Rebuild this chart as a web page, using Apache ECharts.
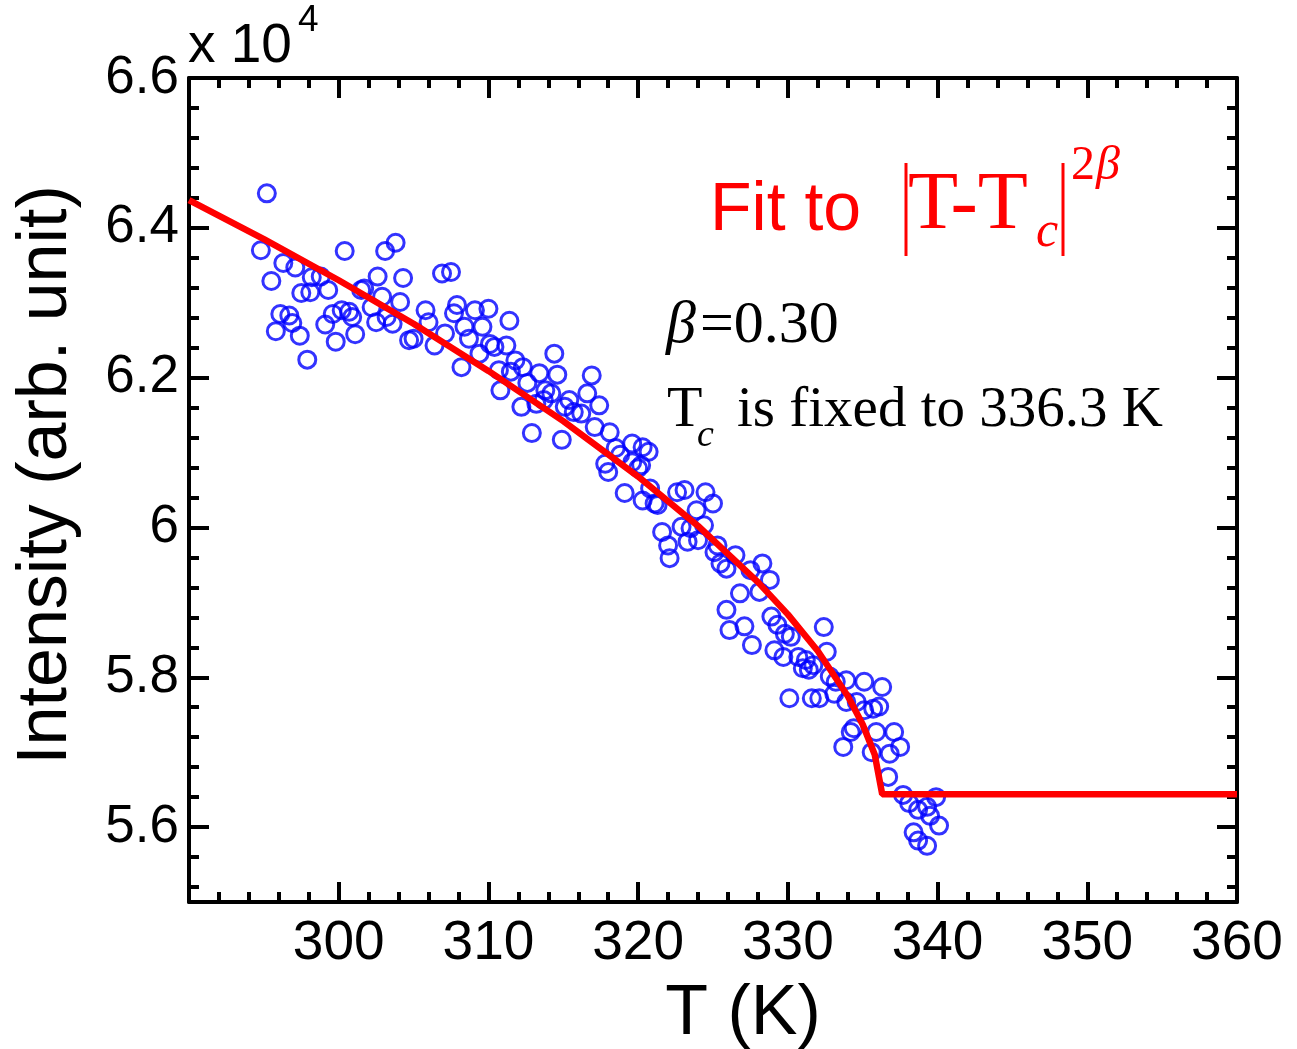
<!DOCTYPE html>
<html>
<head>
<meta charset="utf-8">
<script src="https://cdn.jsdelivr.net/npm/echarts@6/dist/echarts.min.js"></script>
<style>html,body{margin:0;padding:0;background:#fff}#c{width:1297px;height:1049px}</style>
</head>
<body>
<div id="c"></div>
<script>
// Scatter data: temperature (K) and intensity (x10^4)
const tempK = [295.2,294.8,296.3,297.1,295.5,298.2,298.8,297.5,298.1,299.3,300.4,303.1,303.8,302.6,304.3,301.5,301.7,302.9,304.1,296.1,296.7,296.9,295.8,297.4,297.9,299.1,299.6,300.2,300.7,300.9,299.8,301.1,302.2,302.5,303.6,303.2,304.7,305.0,305.8,306.0,306.4,306.9,307.5,307.1,307.7,307.9,308.4,308.7,309.1,309.6,310.0,310.1,309.4,308.2,
311.4,310.4,311.2,311.8,312.3,314.4,310.7,311.5,313.4,314.6,312.6,310.8,313.8,314.2,316.9,316.6,313.7,313.2,312.2,315.4,315.1,315.7,316.2,317.4,317.1,318.1,312.9,314.9,
319.6,320.3,320.7,318.5,318.8,319.6,320.2,320.0,317.8,318.0,320.8,319.1,320.3,321.1,321.3,322.6,323.1,324.5,325.0,323.9,322.9,323.5,324.4,321.6,322.0,322.1,323.3,324.0,325.3,325.1,326.5,325.5,325.9,328.3,327.5,328.8,326.8,328.1,
325.9,328.9,329.3,329.8,330.2,326.1,327.1,327.6,329.1,329.7,330.7,331.2,331.7,331.0,331.4,332.4,332.6,332.8,333.2,333.9,335.1,336.3,330.1,331.6,332.1,333.1,333.9,334.6,335.1,335.7,336.1,334.4,334.2,335.9,337.1,333.7,335.6,336.8,337.5,336.7,337.7,338.1,338.7,339.3,339.9,339.5,340.1,338.4,338.7,339.3];
const intensity = [6.446,6.370,6.353,6.347,6.329,6.334,6.335,6.313,6.314,6.317,6.369,6.369,6.380,6.335,6.333,6.317,6.319,6.308,6.301,6.285,6.283,6.273,6.262,6.256,6.224,6.271,6.285,6.290,6.288,6.281,6.248,6.258,6.294,6.274,6.272,6.281,6.250,6.252,6.290,6.274,6.243,6.339,6.341,6.259,6.286,6.297,6.268,6.252,6.290,6.268,6.292,6.245,6.232,6.214,
6.276,6.241,6.243,6.223,6.214,6.232,6.210,6.208,6.206,6.204,6.193,6.183,6.183,6.179,6.203,6.179,6.170,6.165,6.161,6.170,6.161,6.154,6.152,6.163,6.134,6.127,6.126,6.117,
6.112,6.107,6.101,6.106,6.097,6.087,6.083,6.079,6.085,6.074,6.052,6.046,6.036,6.032,6.030,6.047,6.050,6.047,6.032,6.023,6.001,5.999,6.003,5.994,5.976,5.959,5.981,5.983,5.976,5.967,5.963,5.952,5.945,5.952,5.943,5.930,5.912,5.914,
5.890,5.881,5.870,5.858,5.854,5.863,5.868,5.843,5.836,5.827,5.827,5.823,5.816,5.812,5.810,5.867,5.834,5.801,5.794,5.796,5.794,5.787,5.772,5.772,5.772,5.778,5.767,5.767,5.756,5.758,5.761,5.732,5.727,5.727,5.727,5.707,5.700,5.698,5.707,5.667,5.643,5.632,5.623,5.627,5.640,5.615,5.602,5.593,5.582,5.575];

// Fit curve
const fitT = [290,295,300,305,310,315,320,324,328,330,332,334,335,335.8,336.3,360];
const fitI = [6.437,6.385,6.330,6.272,6.209,6.142,6.068,6.002,5.927,5.884,5.835,5.775,5.737,5.697,5.644,5.644];

// Axis ticks
const yMajor = [5.6,5.8,6,6.2,6.4,6.6];
const yMinor = [5.52,5.56,5.64,5.68,5.72,5.76,5.84,5.88,5.92,5.96,6.04,6.08,6.12,6.16,6.24,6.28,6.32,6.36,6.44,6.48,6.52,6.56];
const yLabels = ['5.6','5.8','6','6.2','6.4','6.6'];

const scatterData = tempK.map((t,i)=>[t,intensity[i]]);
const fitData = fitT.map((t,i)=>[t,fitI[i]]);

const SANS = '"Liberation Sans", Arial, sans-serif';
const SERIF = '"Liberation Serif", "Times New Roman", serif';
const BLACK = '#000';

function xAxisDef(pos, showLabel){
  return {
    type:'value', min:290, max:360, interval:10, position:pos,
    axisLine:{show:true, onZero:false, lineStyle:{color:BLACK,width:4}},
    axisTick:{show:true, inside:true, length:20, lineStyle:{color:BLACK,width:4}},
    minorTick:{show:true, splitNumber:5, length:10, lineStyle:{color:BLACK,width:4}},
    axisLabel:{show:showLabel, fontSize:55, fontFamily:SANS, color:BLACK, margin:14,
      formatter:(v)=> v===290 ? '' : String(v)},
    splitLine:{show:false}, minorSplitLine:{show:false}
  };
}
function yAxisDef(pos, major, showLabel){
  return {
    type:'value', min:5.5, max:6.6, position:pos,
    axisLine:{show:major, onZero:false, lineStyle:{color:BLACK,width:4}},
    axisTick:{show:true, inside:true, length: major?20:10, customValues: major?yMajor:yMinor, lineStyle:{color:BLACK,width:4}},
    axisLabel:{show:showLabel, customValues: yMajor, fontSize:53, fontFamily:SANS, color:BLACK, margin:10,
      formatter:(v)=>{ const k = yMajor.findIndex(m=>Math.abs(m-v)<1e-6); return k>=0?yLabels[k]:''; }},
    splitLine:{show:false}
  };
}

const chart = echarts.init(document.getElementById('c'), null, {renderer:'canvas'});
chart.setOption({
  backgroundColor:'#fff',
  animation:false,
  grid:{left:189, right:60, top:78, bottom:147, containLabel:false},
  xAxis:[xAxisDef('bottom', true), xAxisDef('top', false)],
  yAxis:[yAxisDef('left', true, true), yAxisDef('left', false, false), yAxisDef('right', true, false), yAxisDef('right', false, false)],
  series:[
    {type:'scatter', xAxisIndex:0, yAxisIndex:0, data:scatterData, symbol:'circle', symbolSize:17,
      itemStyle:{color:'rgba(0,0,0,0)', borderColor:'#0000ff', borderWidth:3}, z:2},
    {type:'line', xAxisIndex:0, yAxisIndex:0, data:fitData, showSymbol:false, symbol:'none',
      lineStyle:{color:'#ff0000', width:6.5}, z:3, clip:true}
  ],
  graphic:[
    {type:'text', x:47, y:475, rotation:Math.PI/2,
      style:{text:'Intensity (arb. unit)', font:'70px '+SANS, fill:BLACK, textAlign:'center', textVerticalAlign:'middle'}},
    {type:'text', x:743, y:1015,
      style:{text:'T (K)', font:'70px '+SANS, fill:BLACK, textAlign:'center', textVerticalAlign:'middle'}},
    {type:'text', x:188, y:47,
      style:{text:'x 10', font:'55px '+SANS, fill:BLACK, textAlign:'left', textVerticalAlign:'middle'}},
    {type:'text', x:298, y:21,
      style:{text:'4', font:'37px '+SANS, fill:BLACK, textAlign:'left', textVerticalAlign:'middle'}},
    // Fit to |T-Tc|^{2β}
    {type:'text', x:710, y:211,
      style:{text:'Fit to', font:'68px '+SANS, fill:'#ff0000', textAlign:'left', textVerticalAlign:'middle'}},
    {type:'line', shape:{x1:906,y1:163,x2:906,y2:256}, style:{stroke:'#ff0000', lineWidth:3}},
    {type:'text', x:908, y:206,
      style:{text:'T-T', font:'82px '+SERIF, fill:'#ff0000', textAlign:'left', textVerticalAlign:'middle'}},
    {type:'text', x:1036, y:233,
      style:{text:'c', font:'italic 50px '+SERIF, fill:'#ff0000', textAlign:'left', textVerticalAlign:'middle'}},
    {type:'line', shape:{x1:1063,y1:163,x2:1063,y2:256}, style:{stroke:'#ff0000', lineWidth:3}},
    {type:'text', x:1071, y:166,
      style:{text:'2', font:'48px '+SERIF, fill:'#ff0000', textAlign:'left', textVerticalAlign:'middle'}},
    {type:'text', x:1096, y:166,
      style:{text:'β', font:'italic 48px '+SERIF, fill:'#ff0000', textAlign:'left', textVerticalAlign:'middle'}},
    // β=0.30
    {type:'text', x:666, y:326,
      style:{text:'β', font:'italic 60px '+SERIF, fill:BLACK, textAlign:'left', textVerticalAlign:'middle'}},
    {type:'text', x:700, y:326,
      style:{text:'=0.30', font:'60px '+SERIF, fill:BLACK, textAlign:'left', textVerticalAlign:'middle'}},
    // Tc is fixed to 336.3 K
    {type:'text', x:667, y:411,
      style:{text:'T', font:'58px '+SERIF, fill:BLACK, textAlign:'left', textVerticalAlign:'middle'}},
    {type:'text', x:697, y:436,
      style:{text:'c', font:'italic 38px '+SERIF, fill:BLACK, textAlign:'left', textVerticalAlign:'middle'}},
    {type:'text', x:737, y:411,
      style:{text:'is fixed to 336.3 K', font:'57px '+SERIF, fill:BLACK, textAlign:'left', textVerticalAlign:'middle'}}
  ]
});
</script>
</body>
</html>
